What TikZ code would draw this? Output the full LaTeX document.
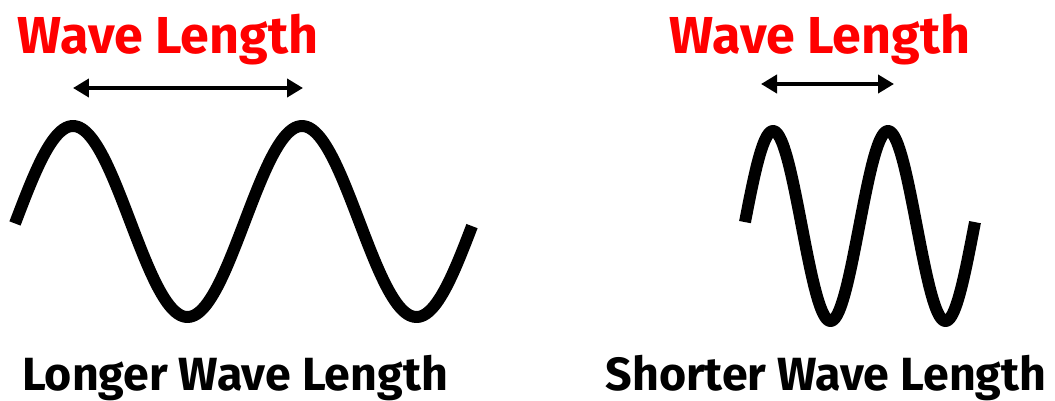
\documentclass[tikz,border=0pt]{standalone}
\usepackage{fontspec}
\setmainfont{Fira Sans}
\usepackage{tikz}
\usetikzlibrary{arrows.meta, positioning}
\definecolor{labelred}{HTML}{FF0000}

\tikzset{
  wave/.style={line width=6.8pt, line cap=butt, line join=round},
  span/.style={{Triangle[length=3.2mm, width=3.6mm]}-{Triangle[length=3.2mm, width=3.6mm]}, line width=2.3pt},
  redlabel/.style={font=\fontsize{29.6}{30}\selectfont\bfseries, text=labelred, anchor=base, inner sep=0pt},
  caption/.style={font=\fontsize{26.5}{27}\selectfont\bfseries, anchor=base, inner sep=0pt}
}

\begin{document}
\begin{tikzpicture}[x=0.02cm, y=0.02cm]
  \useasboundingbox (0,0) rectangle (1055,400);

  % Long wave
  \draw[wave] plot[domain=15:472, samples=220, smooth]
    (\x, {178.5+95.5*cos(((\x-73)/229)*360)});

  % Short wave
  \draw[wave] plot[domain=745:975, samples=220, smooth]
    (\x, {174+95*cos(((\x-773)/115)*360)});

  % Wave length labels
  \node[redlabel] (longlbl) at (168, 347) {Wave Length};
  \node[redlabel] (shortlbl) at (820, 347) {Wave Length};

  % Span arrows
  \coordinate (longA) at (73, 312);
  \coordinate (longB) at (303, 312);
  \coordinate (shortA) at (761, 316);
  \coordinate (shortB) at (894, 316);
  \draw[span] (longA) -- (longB);
  \draw[span] (shortA) -- (shortB);

  % Captions
  \node[caption] (longcap) at (235, 10) {Longer Wave Length};
  \node[caption] (shortcap) at (826, 10) {Shorter Wave Length};
\end{tikzpicture}
\end{document}
